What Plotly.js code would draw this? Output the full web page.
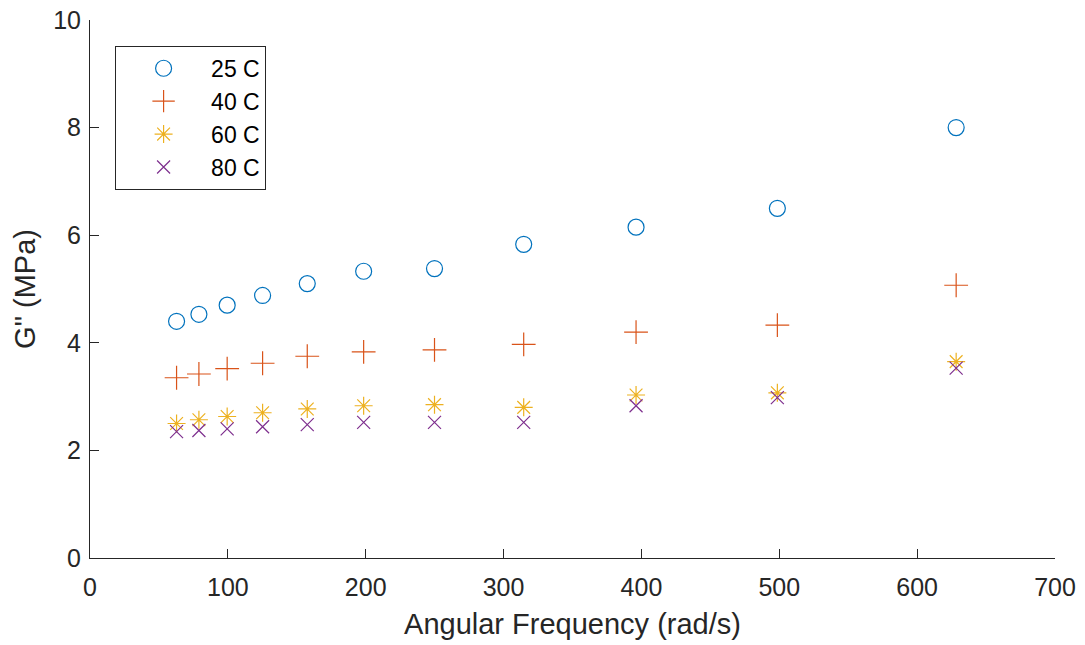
<!DOCTYPE html>
<html>
<head>
<meta charset="utf-8">
<script src="https://cdn.plot.ly/plotly-3.0.1.min.js"></script>
<style>html,body{margin:0;padding:0;background:#fff;}#chart{width:1085px;height:645px;}</style>
</head>
<body>
<div id="chart"></div>
<script>
const freq = [62.8, 79.0, 99.5, 125.2, 157.6, 198.5, 249.9, 314.6, 396.1, 498.6, 628.3];
const g25 = [4.40, 4.53, 4.70, 4.88, 5.10, 5.33, 5.38, 5.83, 6.15, 6.50, 8.00];
const g40 = [3.35, 3.42, 3.52, 3.62, 3.75, 3.83, 3.87, 3.97, 4.20, 4.33, 5.07];
const g60 = [2.50, 2.57, 2.63, 2.70, 2.77, 2.83, 2.85, 2.80, 3.03, 3.07, 3.65];
const g80 = [2.35, 2.37, 2.40, 2.44, 2.48, 2.52, 2.52, 2.52, 2.83, 2.98, 3.53];
const names = ['25 C', '40 C', '60 C', '80 C'];
const xTicks = [0, 100, 200, 300, 400, 500, 600, 700];
const yTicks = [0, 2, 4, 6, 8, 10];

const series = [g25, g40, g60, g80];
const symbols = ['circle-open', 'cross-thin-open', 'asterisk-open', 'x-thin-open'];
const colors = ['#0072BD', '#D95319', '#EDB120', '#7E2F8E'];
const sizes = [16, 17, 15, 13];

const traces = series.map((y, i) => ({
  x: freq, y: y, name: names[i], type: 'scatter', mode: 'markers',
  marker: {symbol: symbols[i], size: sizes[i], color: colors[i], line: {color: colors[i], width: 1.2}}
}));

const FONT = 'Liberation Sans, Arial, sans-serif';
const axisCommon = {
  showgrid: false, zeroline: false, showline: true, linecolor: '#262626', linewidth: 1,
  ticks: 'inside', ticklen: 9, tickcolor: '#262626', tickwidth: 1,
  tickfont: {family: FONT, size: 25, color: '#262626'},
  mirror: false
};

const layout = {
  width: 1085, height: 645,
  margin: {l: 90, r: 30, t: 20, b: 87},
  paper_bgcolor: '#fff', plot_bgcolor: '#fff',
  showlegend: true,
  xaxis: Object.assign({}, axisCommon, {
    range: [0, 700], tickvals: xTicks, ticktext: xTicks.map(String),
    ticklabelstandoff: 7,
    title: {text: 'Angular Frequency (rad/s)', font: {family: FONT, size: 29, color: '#262626'}, standoff: 13}
  }),
  yaxis: Object.assign({}, axisCommon, {
    range: [0, 10], tickvals: yTicks, ticktext: yTicks.map(String),
    ticklabelstandoff: 3,
    title: {text: 'G" (MPa)', font: {family: FONT, size: 29, color: '#262626'}, standoff: 9}
  }),
  legend: {
    x: 0.026, y: 0.952, xanchor: 'left', yanchor: 'top',
    bordercolor: '#262626', borderwidth: 1, bgcolor: '#fff',
    font: {family: FONT, size: 23, color: '#000'},
    itemwidth: 85, tracegroupgap: 0
  }
};

Plotly.newPlot('chart', traces, layout, {displayModeBar: false, staticPlot: true});
</script>
</body>
</html>
